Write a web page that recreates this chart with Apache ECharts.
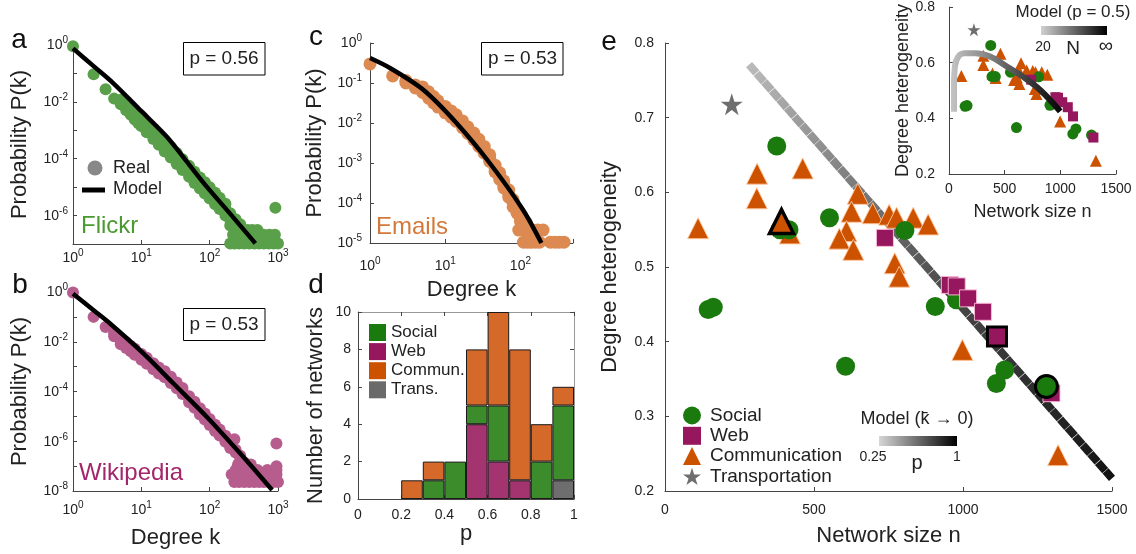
<!DOCTYPE html>
<html><head><meta charset="utf-8">
<script src="https://cdn.jsdelivr.net/npm/echarts@6/dist/echarts.min.js"></script>
<style>html,body{margin:0;padding:0;background:#fff}#c{width:1136px;height:554px}</style>
</head><body><div id="c"></div>
<script>
const FONT = "'Liberation Sans', Arial, Helvetica, sans-serif";

// ---------- panel a : Flickr degree distribution [k, P(k)] ----------
const flickrReal = [[1,0.9],[2,0.093],[3,0.028],[4,0.013],
 [5,0.0118],[5,0.0082],[6,0.0074],[6,0.0102],[6,0.0051],[7,0.0051],[7,0.0070],[7,0.0035],
 [8,0.0036],[8,0.0051],[8,0.0024],[9,0.0027],[9,0.0018],[10,0.0021],[10,0.0030],[10,0.0014],
 [12,0.0013],[12,0.0019],[12,0.00085],[15,7.6e-4],[15,1.1e-3],[15,4.9e-4],
 [18,4.8e-4],[18,7.0e-4],[18,3.1e-4],[22,2.9e-4],[22,4.2e-4],[22,1.8e-4],
 [27,1.7e-4],[27,2.6e-4],[27,1.1e-4],[33,1.05e-4],[33,1.6e-4],[33,6.5e-5],
 [40,6.5e-5],[40,9.5e-5],[40,4.0e-5],[50,3.7e-5],[50,5.6e-5],[50,2.3e-5],
 [60,2.3e-5],[60,3.5e-5],[60,1.4e-5],[72,1.5e-5],[72,2.2e-5],[72,9.0e-6],
 [85,1.0e-5],[85,1.5e-5],[85,6.0e-6],[100,6.6e-6],[100,1.0e-5],[100,4.0e-6],
 [120,4.2e-6],[120,6.3e-6],[120,2.5e-6],[140,2.8e-6],[140,4.2e-6],[140,1.7e-6],
 [170,1.7e-6],[170,2.6e-6],[170,1.0e-6],[200,1.2e-6],[200,7.0e-7],[200,4.5e-7],
 [240,7.4e-7],[240,4.5e-7],[240,3.1e-7],[280,5.0e-7],[280,3.1e-7],
 [200,1.05e-7],[230,1.05e-7],[270,1.05e-7],[320,1.05e-7],[380,1.05e-7],[450,1.05e-7],[530,1.05e-7],[620,1.05e-7],[730,1.05e-7],[860,1.05e-7],[1000,1.05e-7],
 [220,2.1e-7],[260,2.1e-7],[310,2.1e-7],[370,2.1e-7],[440,2.1e-7],[520,2.1e-7],[620,2.1e-7],[750,2.1e-7],[900,2.1e-7],
 [300,3.1e-7],[360,3.1e-7],[420,3.1e-7],[500,3.1e-7],
 [915,1.9e-6]];
const flickrModel = [[1,0.76],[2,0.18],[3.9,0.045],[10,0.0047],[23.6,5.9e-4],[50,6.2e-5],[91,1.02e-5],[200,1.15e-6],[466,1.05e-7]];

// ---------- panel b : Wikipedia ----------
const wikiReal = [[1,0.95],[2,0.1],[3,0.039],[4,0.0166],[4,0.022],
 [5,0.0105],[5,0.0135],[5,0.008],[6,0.0074],[6,0.0096],[6,0.0056],[7,0.0053],[7,0.0068],[7,0.0041],
 [8,0.0040],[8,0.0052],[8,0.0030],[10,0.0025],[10,0.0032],[10,0.0019],
 [12,0.00174],[12,0.0023],[12,0.0013],[15,0.00105],[15,0.00137],[15,0.00079],
 [18,7.1e-4],[18,9.2e-4],[18,5.3e-4],[22,5.0e-4],[22,6.5e-4],[22,3.7e-4],
 [27,3.0e-4],[27,3.9e-4],[27,2.2e-4],[33,1.8e-4],[33,2.3e-4],[33,1.35e-4],
 [40,1.05e-4],[40,1.37e-4],[40,7.9e-5],[50,5.0e-5],[50,6.5e-5],[50,3.7e-5],
 [60,3.0e-5],[60,3.9e-5],[60,2.2e-5],[72,1.6e-5],[72,2.1e-5],[72,1.2e-5],
 [85,1.0e-5],[85,1.3e-5],[85,7.5e-6],[100,6.0e-6],[100,7.8e-6],[100,4.5e-6],
 [120,3.5e-6],[120,4.6e-6],[120,2.6e-6],[140,2.3e-6],[140,3.0e-6],[140,1.7e-6],
 [170,1.26e-6],[170,1.65e-6],[170,9.5e-7],[200,7.1e-7],[200,9.3e-7],[200,5.3e-7],
 [230,1.2e-6],[240,3.5e-7],[240,4.6e-7],[280,2.0e-7],[280,2.6e-7],[320,1.4e-7],
 [230,2.3e-8],[270,2.3e-8],[320,2.3e-8],[380,2.3e-8],[450,2.3e-8],[530,2.3e-8],[620,2.3e-8],[730,2.3e-8],[860,2.3e-8],[1000,2.3e-8],
 [210,4.6e-8],[250,4.6e-8],[300,4.6e-8],[360,4.6e-8],[430,4.6e-8],[510,4.6e-8],[600,4.6e-8],[700,4.6e-8],[820,4.6e-8],[950,4.6e-8],
 [240,7.0e-8],[290,7.0e-8],[350,7.0e-8],[420,7.0e-8],[500,7.0e-8],[700,7.0e-8],[950,7.0e-8],
 [260,1.15e-7],[330,1.15e-7],[400,1.15e-7],[950,1.0e-7],[948,8.1e-7]];
const wikiModel = [[1,0.86],[2,0.184],[3.48,0.054],[10.7,0.0034],[29.5,2.1e-4],[91,9.5e-6],[281,3.2e-7],[819,1.1e-8]];

// ---------- panel c : Emails ----------
const emailReal = [[1,0.30],[2,0.15],[3,0.115],[3,0.10],[4,0.089],[4,0.075],
 [5,0.068],[5,0.058],[5,0.08],[6,0.050],[6,0.060],[6,0.042],[7,0.038],[7,0.046],[7,0.032],
 [8,0.0295],[8,0.036],[8,0.025],[10,0.0214],[10,0.026],[10,0.018],
 [12,0.0166],[12,0.020],[12,0.014],[14,0.0132],[14,0.016],[14,0.011],
 [17,0.0093],[17,0.0113],[17,0.0077],[20,0.0066],[20,0.008],[20,0.0055],
 [24,0.0046],[24,0.0056],[24,0.0038],[28,0.0032],[28,0.0039],[28,0.0026],
 [33,0.00214],[33,0.0026],[33,0.00175],[39,0.00132],[39,0.0016],[39,0.0011],
 [46,7.2e-4],[46,8.8e-4],[46,6.0e-4],[53,4.7e-4],[53,5.7e-4],[53,3.9e-4],
 [60,2.95e-4],[60,3.6e-4],[60,2.4e-4],[70,1.7e-4],[70,2.1e-4],[70,1.4e-4],
 [80,1.0e-4],[80,1.2e-4],[80,8.0e-5],[90,5.6e-5],[90,7.0e-5],[100,3.5e-5],[100,4.5e-5],
 [110,1.05e-5],[125,1.05e-5],[140,1.05e-5],[160,1.05e-5],[180,1.05e-5],[250,1.05e-5],[290,1.05e-5],[330,1.05e-5],[380,1.05e-5],
 [95,2.1e-5],[110,2.1e-5],[125,2.1e-5],[145,2.1e-5],[170,2.1e-5],[200,2.1e-5],
 [105,3.2e-5],[120,3.2e-5]];
const emailModel = [[1,0.42],[1.84,0.237],[5.1,0.0676],[14.1,0.01],[39,0.001],[108,6.8e-5],[190,1.0e-5]];

// ---------- panel d : histogram of p ----------
const pBins = ['0-0.1','0.1-0.2','0.2-0.3','0.3-0.4','0.4-0.5','0.5-0.6','0.6-0.7','0.7-0.8','0.8-0.9','0.9-1'];
const histTrans  = [0,0,0,0,0,0,0,0,0,1];
const histWeb    = [0,0,0,0,0,4,2,1,0,0];
const histSocial = [0,0,0,1,2,1,3,0,2,4];
const histComm   = [0,0,1,1,0,3,5,7,2,1];

// ---------- panel e : network size vs degree heterogeneity ----------
const socialN = [375,145,162,386,416,552,805,606,907,978,1140,1112,1280];
const socialH = [0.662,0.443,0.446,0.550,0.550,0.566,0.549,0.367,0.447,0.456,0.362,0.344,0.340];
const webN = [738,956,979,1017,1067,1114,1297];
const webH = [0.539,0.476,0.474,0.458,0.440,0.407,0.331];
const commN = [309,462,308,111,391,419,647,626,697,752,777,833,883,609,585,632,771,786,998,1319];
const commH = [0.625,0.632,0.592,0.552,0.561,0.545,0.598,0.574,0.572,0.570,0.566,0.566,0.557,0.548,0.538,0.523,0.505,0.487,0.389,0.248];
const transN = [224];
const transH = [0.718];
const highlightSocial = 12, highlightWeb = 5, highlightComm = 4;   // Flickr, Wikipedia, Emails
const modelN = [282,1500];
const modelH = [0.771,0.217];
const insetModelN = [45,45,54,90,144,234,369,519,666,819,999];
const insetModelH = [0.424,0.52,0.589,0.625,0.634,0.634,0.622,0.586,0.549,0.502,0.425];

const zip = (a,b) => a.map((v,i) => [v, b[i]]);
const nz = arr => arr.map(v => v === 0 ? '-' : v);

const C_SOC = '#1b7a0e', C_WEB = '#97175f', C_COM = '#cc5200', C_TRA = '#6e6e6e';
const STAR = 'path://M50,2 L61.8,37.6 L99,37.6 L68.9,59.5 L80.4,95 L50,73 L19.6,95 L31.1,59.5 L1,37.6 L38.2,37.6 Z';

function ax(o) {
  const base = {
    nameLocation: 'middle',
    axisLine: {show: true, onZero: false, lineStyle: {color: '#444', width: 1}},
    axisTick: {show: true, inside: true, length: 4, lineStyle: {color: '#444'}},
    splitLine: {show: false},
    nameTextStyle: {color: '#222', fontSize: 22, fontFamily: FONT}
  };
  const r = Object.assign(base, o);
  r.axisLabel = Object.assign({color: '#222', fontSize: 14, fontFamily: FONT}, o.axisLabel || {});
  return r;
}
const RICH = {
  b: {fontSize: 14, color: '#222', fontFamily: FONT, verticalAlign: 'bottom', lineHeight: 15},
  s: {fontSize: 10, color: '#222', fontFamily: FONT, verticalAlign: 'bottom', lineHeight: 10, padding: [0,0,7,0]}
};
function logLabel(evenOnly) {
  return function (v) {
    const lg = Math.log10(v), e = Math.round(lg);
    if (Math.abs(lg - e) > 1e-6) return '';
    if (evenOnly && e % 2 !== 0) return '';
    return '{b|10}{s|' + e + '}';
  };
}
function logAxis(o, even, margin) {
  return ax(Object.assign({type: 'log', logBase: 10, interval: 1,
    axisLabel: {formatter: logLabel(even), rich: RICH, margin: margin}}, o));
}
const plain = v => String(+(+v).toFixed(2));

const grids = [
  {left: 73, top: 45, width: 205, height: 199},
  {left: 73, top: 292, width: 205, height: 199},
  {left: 370, top: 43, width: 203, height: 200},
  {left: 358, top: 312, width: 216, height: 187},
  {left: 665, top: 43, width: 447, height: 448},
  {left: 949, top: 7, width: 167, height: 167}
].map(g => Object.assign(g, {containLabel: false, outerBoundsMode: 'none'}));

const xAxis = [
  logAxis({gridIndex: 0, min: 1, max: 1000, position: 'bottom'}, false, 6),
  logAxis({gridIndex: 1, min: 1, max: 1000, position: 'bottom', name: 'Degree k', nameGap: 36}, false, 11),
  logAxis({gridIndex: 2, min: 1, max: 500, position: 'bottom', name: 'Degree k', nameGap: 36}, false, 15),
  {type: 'category', gridIndex: 3, data: pBins, show: false, position: 'bottom'},
  ax({type: 'value', gridIndex: 3, min: 0, max: 1, interval: 0.2, position: 'bottom', name: 'p', nameGap: 21,
      axisLabel: {margin: 9, formatter: plain}}),
  ax({type: 'value', gridIndex: 3, min: 0, max: 1, interval: 0.2, position: 'top',
      axisLine: {show: true, onZero: false, lineStyle: {color: '#999'}}, axisLabel: {show: false}}),
  ax({type: 'value', gridIndex: 4, min: 0, max: 1500, interval: 500, position: 'bottom', name: 'Network size n', nameGap: 34,
      axisLabel: {margin: 12, formatter: plain}}),
  ax({type: 'value', gridIndex: 5, min: 0, max: 1500, interval: 500, position: 'bottom', name: 'Network size n', nameGap: 29,
      nameTextStyle: {color: '#222', fontSize: 18, fontFamily: FONT}, axisLabel: {margin: 8, formatter: plain}})
];
const yAxis = [
  logAxis({gridIndex: 0, min: 1e-7, max: 1, position: 'left', name: 'Probability P(k)', nameGap: 42}, true, 5),
  logAxis({gridIndex: 1, min: 1e-8, max: 1, position: 'left', name: 'Probability P(k)', nameGap: 42}, true, 5),
  logAxis({gridIndex: 2, min: 1e-5, max: 1, position: 'left', name: 'Probability P(k)', nameGap: 44}, false, 8),
  ax({type: 'value', gridIndex: 3, min: 0, max: 10, interval: 2, position: 'left', name: 'Number of networks', nameGap: 31,
      axisLabel: {margin: 7}}),
  ax({type: 'value', gridIndex: 3, min: 0, max: 10, interval: 2, position: 'right',
      axisLine: {show: true, onZero: false, lineStyle: {color: '#999'}}, axisLabel: {show: false}}),
  ax({type: 'value', gridIndex: 4, min: 0.2, max: 0.8, interval: 0.1, position: 'left', name: 'Degree heterogeneity', nameGap: 44,
      axisLabel: {margin: 11, formatter: v => (+v).toFixed(1)}}),
  ax({type: 'value', gridIndex: 5, min: 0.2, max: 0.8, interval: 0.2, position: 'left', name: 'Degree heterogeneity', nameGap: 36,
      nameTextStyle: {color: '#222', fontSize: 18, fontFamily: FONT}, axisLabel: {margin: 14, formatter: v => (+v).toFixed(1)}})
];

const barBase = {type: 'bar', xAxisIndex: 3, yAxisIndex: 3, stack: 'hist', barCategoryGap: '0%',
  itemStyle: {borderColor: '#1a1a1a', borderWidth: 1}};
const sc = (o) => Object.assign({type: 'scatter', emphasis: {disabled: true}}, o,
  {itemStyle: Object.assign({opacity: 1}, o.itemStyle || {})});

const series = [
  // panel a
  sc({name: 'Real', xAxisIndex: 0, yAxisIndex: 0, data: flickrReal, symbolSize: 12, itemStyle: {color: '#5aa04a'}, z: 2}),
  {name: 'Model', type: 'line', xAxisIndex: 0, yAxisIndex: 0, data: flickrModel, smooth: 0.3, showSymbol: false,
   lineStyle: {color: '#000', width: 4.5}, z: 3},
  // panel b
  sc({name: 'Real', xAxisIndex: 1, yAxisIndex: 1, data: wikiReal, symbolSize: 12, itemStyle: {color: '#b65d8e'}, z: 2}),
  {name: 'Model', type: 'line', xAxisIndex: 1, yAxisIndex: 1, data: wikiModel, smooth: 0.3, showSymbol: false,
   lineStyle: {color: '#000', width: 4.5}, z: 3},
  // panel c
  sc({name: 'Real', xAxisIndex: 2, yAxisIndex: 2, data: emailReal, symbolSize: 13, itemStyle: {color: '#dc8a52'}, z: 2}),
  {name: 'Model', type: 'line', xAxisIndex: 2, yAxisIndex: 2, data: emailModel, smooth: 0.3, showSymbol: false,
   lineStyle: {color: '#000', width: 4.5}, z: 3},
  // panel d
  Object.assign({}, barBase, {name: 'Trans.', data: nz(histTrans), itemStyle: Object.assign({}, barBase.itemStyle, {color: '#6e6e6e'})}),
  Object.assign({}, barBase, {name: 'Web', data: nz(histWeb), itemStyle: Object.assign({}, barBase.itemStyle, {color: '#a33470'})}),
  Object.assign({}, barBase, {name: 'Social', data: nz(histSocial), itemStyle: Object.assign({}, barBase.itemStyle, {color: '#3c8c2c'})}),
  Object.assign({}, barBase, {name: 'Commun.', data: nz(histComm), itemStyle: Object.assign({}, barBase.itemStyle, {color: '#d4692a'})}),
  // panel e main
  {name: 'Model p', type: 'line', xAxisIndex: 6, yAxisIndex: 5, data: zip(modelN, modelH), showSymbol: false, z: 1,
   lineStyle: {width: 8, type: [11, 0.5], cap: 'butt',
     color: new echarts.graphic.LinearGradient(0, 0, 1, 1, [
       {offset: 0, color: '#bdbdbd'}, {offset: 0.3, color: '#7a7a7a'}, {offset: 0.55, color: '#4a4a4a'}, {offset: 1, color: '#111'}])}},
  sc({name: 'Communication', xAxisIndex: 6, yAxisIndex: 5, data: zip(commN, commH), symbol: 'triangle',
   symbolSize: 21, itemStyle: {color: C_COM, borderColor: 'rgba(255,200,160,0.9)', borderWidth: 1}, z: 2}),
  sc({name: 'Social', xAxisIndex: 6, yAxisIndex: 5, data: zip(socialN, socialH), symbol: 'circle',
   symbolSize: 19, itemStyle: {color: C_SOC}, z: 3}),
  sc({name: 'Web', xAxisIndex: 6, yAxisIndex: 5, data: zip(webN, webH), symbol: 'rect',
   symbolSize: 17, itemStyle: {color: C_WEB, borderColor: 'rgba(255,190,220,0.9)', borderWidth: 1}, z: 4}),
  sc({name: 'Transportation', xAxisIndex: 6, yAxisIndex: 5, data: zip(transN, transH), symbol: STAR,
   symbolSize: 22, itemStyle: {color: C_TRA}, z: 4}),
  sc({name: 'Emails', xAxisIndex: 6, yAxisIndex: 5, data: [[commN[highlightComm], commH[highlightComm]]],
   symbol: 'triangle', symbolSize: 24, itemStyle: {color: C_COM, borderColor: '#000', borderWidth: 3.5}, z: 5}),
  sc({name: 'Wikipedia', xAxisIndex: 6, yAxisIndex: 5, data: [[webN[highlightWeb], webH[highlightWeb]]],
   symbol: 'rect', symbolSize: 19, itemStyle: {color: C_WEB, borderColor: '#000', borderWidth: 3}, z: 5}),
  sc({name: 'Flickr', xAxisIndex: 6, yAxisIndex: 5, data: [[socialN[highlightSocial], socialH[highlightSocial]]],
   symbol: 'circle', symbolSize: 22, itemStyle: {color: C_SOC, borderColor: '#000', borderWidth: 3}, z: 5}),
  // inset
  sc({name: 'Communication', xAxisIndex: 7, yAxisIndex: 6, data: zip(commN, commH), symbol: 'triangle',
   symbolSize: 12, itemStyle: {color: C_COM}, z: 2}),
  sc({name: 'Social', xAxisIndex: 7, yAxisIndex: 6, data: zip(socialN, socialH), symbol: 'circle',
   symbolSize: 11, itemStyle: {color: C_SOC}, z: 3}),
  sc({name: 'Web', xAxisIndex: 7, yAxisIndex: 6, data: zip(webN, webH), symbol: 'rect',
   symbolSize: 10, itemStyle: {color: C_WEB}, z: 4}),
  sc({name: 'Transportation', xAxisIndex: 7, yAxisIndex: 6, data: zip(transN, transH), symbol: STAR,
   symbolSize: 13, itemStyle: {color: C_TRA}, z: 4}),
  {name: 'Model N', type: 'line', xAxisIndex: 7, yAxisIndex: 6, data: zip(insetModelN, insetModelH), smooth: 0.4,
   showSymbol: false, z: 6,
   lineStyle: {width: 6, cap: 'butt', color: new echarts.graphic.LinearGradient(0, 0, 1, 0, [
     {offset: 0, color: '#c4c4c4'}, {offset: 0.3, color: '#8a8a8a'}, {offset: 0.7, color: '#3a3a3a'}, {offset: 1, color: '#000'}])}}
];

const legends = [
  {orient: 'vertical', left: 678, top: 401, itemWidth: 18, itemHeight: 18, itemGap: 1.3, selectedMode: false,
   textStyle: {fontSize: 19, lineHeight: 18, color: '#222', fontFamily: FONT, padding: [0, 0, 0, 4]},
   data: [
     {name: 'Social', icon: 'circle', itemStyle: {color: C_SOC, borderWidth: 0}},
     {name: 'Web', icon: 'rect', itemStyle: {color: C_WEB, borderWidth: 0}},
     {name: 'Communication', icon: 'triangle', itemStyle: {color: C_COM, borderWidth: 0}},
     {name: 'Transportation', icon: STAR, itemStyle: {color: C_TRA, borderWidth: 0}}]},
  {orient: 'vertical', left: 364, top: 319, itemWidth: 17, itemHeight: 17, itemGap: 2.1, selectedMode: false,
   textStyle: {fontSize: 17, lineHeight: 17, color: '#222', fontFamily: FONT},
   data: [
     {name: 'Social', icon: 'rect', itemStyle: {color: C_SOC, borderWidth: 0}},
     {name: 'Web', icon: 'rect', itemStyle: {color: C_WEB, borderWidth: 0}},
     {name: 'Commun.', icon: 'rect', itemStyle: {color: C_COM, borderWidth: 0}},
     {name: 'Trans.', icon: 'rect', itemStyle: {color: '#6a6a6a', borderWidth: 0}}]}
];

function txt(x, y, text, size, opts) {
  return Object.assign({type: 'text', x: x, y: y, z: 20,
    style: Object.assign({text: text, font: size + 'px ' + FONT, fill: '#222',
      align: 'center', verticalAlign: 'middle', textAlign: 'center', textVerticalAlign: 'middle'}, opts || {})});
}
const graphic = [
  txt(19, 40, 'a', 28, {fill: '#111'}), txt(20, 285, 'b', 28, {fill: '#111'}),
  txt(316, 37, 'c', 28, {fill: '#111'}), txt(316, 285, 'd', 28, {fill: '#111'}),
  txt(609, 42, 'e', 28, {fill: '#111'}),
  {type: 'rect', shape: {x: 183.5, y: 42.5, width: 81.5, height: 32.5}, style: {fill: '#fff', stroke: '#000', lineWidth: 1}, z: 19},
  txt(224, 59, 'p = 0.56', 19),
  {type: 'rect', shape: {x: 183.5, y: 308.5, width: 81.5, height: 32}, style: {fill: '#fff', stroke: '#000', lineWidth: 1}, z: 19},
  txt(224, 325, 'p = 0.53', 19),
  {type: 'rect', shape: {x: 481.5, y: 42.5, width: 81.5, height: 32.5}, style: {fill: '#fff', stroke: '#000', lineWidth: 1}, z: 19},
  txt(522.5, 59, 'p = 0.53', 19),
  txt(81, 226, 'Flickr', 24, {fill: '#4a9a32', align: 'left', textAlign: 'left'}),
  txt(79, 473.5, 'Wikipedia', 24, {fill: '#a3256a', align: 'left', textAlign: 'left'}),
  txt(376, 227, 'Emails', 24, {fill: '#d4783a', align: 'left', textAlign: 'left'}),
  {type: 'circle', shape: {cx: 95, cy: 168, r: 7.5}, style: {fill: '#888'}, z: 19},
  {type: 'line', shape: {x1: 82, y1: 190, x2: 105, y2: 190}, style: {stroke: '#000', lineWidth: 5}, z: 19},
  txt(113, 168, 'Real', 18, {align: 'left', textAlign: 'left'}),
  txt(113, 189, 'Model', 18, {align: 'left', textAlign: 'left'}),
  // main colour bar
  txt(917, 419, 'Model (k\u0304 \u2192 0)', 18),
  {type: 'rect', shape: {x: 879, y: 436, width: 78, height: 10}, z: 19,
   style: {fill: new echarts.graphic.LinearGradient(0, 0, 1, 0, [{offset: 0, color: '#d6d6d6'}, {offset: 1, color: '#000'}])}},
  txt(873, 457, '0.25', 14), txt(957, 457, '1', 14), txt(917, 463, 'p', 20),
  // inset colour bar
  txt(1073, 12, 'Model (p = 0.5)', 17),
  {type: 'rect', shape: {x: 1041, y: 26, width: 66, height: 9}, z: 19,
   style: {fill: new echarts.graphic.LinearGradient(0, 0, 1, 0, [{offset: 0, color: '#d0d0d0'}, {offset: 1, color: '#000'}])}},
  txt(1043, 47, '20', 14), txt(1073, 49, 'N', 19), txt(1106, 46, '\u221E', 20)
];

const chart = echarts.init(document.getElementById('c'), null, {renderer: 'canvas'});
chart.setOption({
  animation: false,
  backgroundColor: '#fff',
  textStyle: {fontFamily: FONT},
  grid: grids, xAxis: xAxis, yAxis: yAxis, series: series, legend: legends, graphic: graphic
});
</script></body></html>
